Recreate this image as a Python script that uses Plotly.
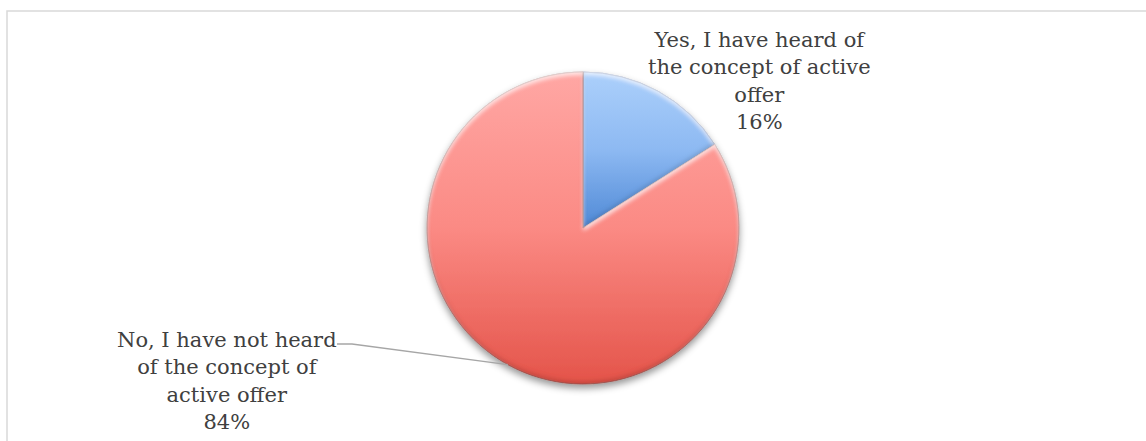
import json
import math
import plotly.graph_objects as go

# Survey answers and their shares
labels = [
    "Yes, I have heard of<br>the concept of active<br>offer",
    "No, I have not heard<br>of the concept of<br>active offer",
]
values = [16, 84]

# Vertical gradient stops per slice (top -> bottom)
slice_gradients = [
    ["#acd0fb", "#8db9f2", "#4f89d6"],
    ["#ffa7a4", "#fb8a84", "#e4544a"],
]
slice_edges = ["#3c6aa8", "#a8473f"]
text_color = "#404040"
label_font = "DejaVu Serif"

W, H = 1146, 441
cx, cy, r = 583, 228, 156  # pie centre and radius in pixels


def px(x, y):
    return x / W, 1 - y / H


total = sum(values)
pct = [round(100 * v / total) for v in values]
texts = [f"{lab}<br>{p}%" for lab, p in zip(labels, pct)]

fig = go.Figure(
    go.Pie(
        labels=labels,
        values=values,
        sort=False,
        direction="clockwise",
        rotation=0,
        textinfo="none",
        hoverinfo="skip",
        showlegend=False,
        marker=dict(colors=[g[1] for g in slice_gradients],
                    line=dict(color=slice_edges, width=0.8)),
        domain=dict(x=[(cx - r) / W, (cx + r) / W],
                    y=[(H - cy - r) / H, (H - cy + r) / H]),
    )
)

# Leader line for the "No" label ends at the middle of its slice's arc
start_frac = values[0] / total
mid_frac = start_frac + values[1] / total / 2
ang = 2 * math.pi * mid_frac
ex, ey = cx + r * math.sin(ang), cy - r * math.cos(ang)
p0, p1, p2 = px(337, 344), px(352, 344), px(ex, ey)

fig.update_layout(
    width=W,
    height=H,
    margin=dict(l=0, r=0, t=0, b=0),
    paper_bgcolor="white",
    plot_bgcolor="white",
    annotations=[
        dict(text=texts[0], x=759 / W, y=1 - 26 / H, xref="paper", yref="paper",
             xanchor="center", yanchor="top", showarrow=False, align="center",
             font=dict(family=label_font, size=21, color=text_color)),
        dict(text=texts[1], x=227 / W, y=1 - 326 / H, xref="paper", yref="paper",
             xanchor="center", yanchor="top", showarrow=False, align="center",
             font=dict(family=label_font, size=21, color=text_color)),
    ],
    shapes=[
        dict(type="rect", xref="paper", yref="paper",
             x0=7 / W, x1=1.05, y0=-0.05, y1=1 - 11 / H,
             line=dict(color="#d9d9d9", width=1.5), layer="below"),
        dict(type="path", xref="paper", yref="paper",
             path=f"M{p0[0]},{p0[1]} L{p1[0]},{p1[1]} L{p2[0]},{p2[1]}",
             line=dict(color="#a6a6a6", width=1.3)),
    ],
)

post = """
(function(){
  var gd = document.getElementById('{plot_id}');
  var grads = %s;
  var ns = 'http://www.w3.org/2000/svg';
  function el(tag, attrs, parent){
    var e = document.createElementNS(ns, tag);
    for(var k in attrs) e.setAttribute(k, attrs[k]);
    if(parent) parent.appendChild(e);
    return e;
  }
  function paint(){
    var svg = gd.querySelector('svg.main-svg');
    if(!svg) return;
    var defs = svg.querySelector('defs');
    if(!defs.querySelector('#pieShadow')){
      grads.forEach(function(stops, i){
        var lg = el('linearGradient', {id: 'sliceGrad' + i, x1: 0, y1: 0, x2: 0, y2: 1}, defs);
        stops.forEach(function(c, k){
          el('stop', {offset: k / (stops.length - 1), 'stop-color': c}, lg);
        });
      });
      // soft outer shadow under the whole pie
      var f = el('filter', {id: 'pieShadow', x: '-20%%', y: '-20%%', width: '140%%', height: '140%%'}, defs);
      el('feDropShadow', {dx: 0, dy: 4, stdDeviation: 3.5, 'flood-color': '#000', 'flood-opacity': 0.4}, f);
      // rounded bevel: light rim on upper edges, dark rim on lower edges
      var b = el('filter', {id: 'sliceBevel', x: '-5%%', y: '-5%%', width: '110%%', height: '110%%'}, defs);
      el('feGaussianBlur', {'in': 'SourceAlpha', stdDeviation: 2.2, result: 'blur'}, b);
      el('feOffset', {'in': 'blur', dx: 0, dy: 3, result: 'down'}, b);
      el('feComposite', {'in': 'SourceAlpha', in2: 'down', operator: 'out', result: 'topRim'}, b);
      el('feFlood', {'flood-color': '#ffffff', 'flood-opacity': 0.7, result: 'white'}, b);
      el('feComposite', {'in': 'white', in2: 'topRim', operator: 'in', result: 'hi'}, b);
      el('feOffset', {'in': 'blur', dx: 0, dy: -3, result: 'up'}, b);
      el('feComposite', {'in': 'SourceAlpha', in2: 'up', operator: 'out', result: 'botRim'}, b);
      el('feFlood', {'flood-color': '#000000', 'flood-opacity': 0.3, result: 'black'}, b);
      el('feComposite', {'in': 'black', in2: 'botRim', operator: 'in', result: 'lo'}, b);
      var m = el('feMerge', {}, b);
      el('feMergeNode', {'in': 'SourceGraphic'}, m);
      el('feMergeNode', {'in': 'hi'}, m);
      el('feMergeNode', {'in': 'lo'}, m);
    }
    gd.querySelectorAll('g.slice path.surface').forEach(function(p, i){
      p.style.fill = 'url(#sliceGrad' + i + ')';
      p.setAttribute('filter', 'url(#sliceBevel)');
    });
    gd.querySelectorAll('g.pielayer g.trace').forEach(function(g){
      g.setAttribute('filter', 'url(#pieShadow)');
    });
  }
  paint();
  gd.on('plotly_afterplot', paint);
})();
""" % json.dumps(slice_gradients)

fig.write_html("out.html", post_script=post, config={"displayModeBar": False})
